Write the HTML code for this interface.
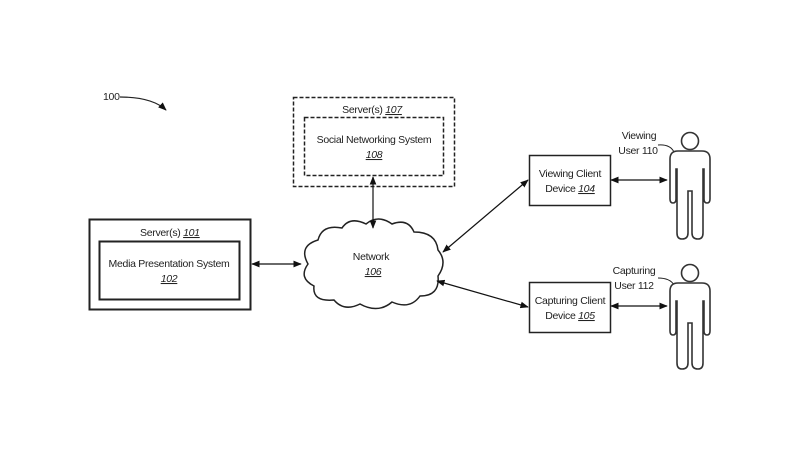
<!DOCTYPE html>
<html><head><style>
html,body{margin:0;padding:0;background:#fff;}
svg{display:block;}
text{font-family:"Liberation Sans",sans-serif;font-size:10.5px;fill:#222;letter-spacing:-0.3px;}
</style></head><body>
<svg width="800" height="470" viewBox="0 0 800 470" xmlns="http://www.w3.org/2000/svg">
<defs>
<marker id="a" viewBox="0 0 10 10" refX="9" refY="5" markerWidth="7" markerHeight="7" orient="auto-start-reverse"><path d="M0,1 L10,5 L0,9 Z" fill="#111"/></marker>
</defs>
<rect width="800" height="470" fill="#fff"/>
<text x="103" y="100">100</text>
<path d="M120,97 Q152,97 166,110" fill="none" stroke="#222" stroke-width="1.2" marker-end="url(#a)"/>
<rect x="89.5" y="219.5" width="161" height="90" fill="none" stroke="#222" stroke-width="2"/>
<text x="140" y="236">Server(s) <tspan text-decoration="underline" font-style="italic">101</tspan></text>
<rect x="99.5" y="241.5" width="140" height="58" fill="none" stroke="#222" stroke-width="2"/>
<text x="169" y="267" text-anchor="middle">Media Presentation System</text>
<text x="169" y="282" text-anchor="middle" font-style="italic" text-decoration="underline">102</text>
<rect x="293.5" y="97.5" width="161" height="89" fill="none" stroke="#222" stroke-width="1.5" stroke-dasharray="4,2"/>
<text x="372" y="113" text-anchor="middle">Server(s) <tspan text-decoration="underline" font-style="italic">107</tspan></text>
<rect x="304.5" y="117.5" width="139" height="58" fill="none" stroke="#222" stroke-width="1.5" stroke-dasharray="4,2"/>
<text x="374" y="143" text-anchor="middle">Social Networking System</text>
<text x="374" y="158" text-anchor="middle" font-style="italic" text-decoration="underline">108</text>
<path d="M318,240 Q322,224 342,228 Q350,216 366,224 Q378,214 392,224 Q408,218 414,232 Q436,232 438,250 Q448,262 438,276 Q440,296 420,296 Q410,310 392,302 Q378,314 360,304 Q344,312 334,300 Q312,302 314,286 Q298,278 308,264 Q298,246 318,240 Z" fill="#fff" stroke="#222" stroke-width="1.5"/>
<text x="371" y="260" text-anchor="middle">Network</text>
<text x="373" y="275" text-anchor="middle" font-style="italic" text-decoration="underline">106</text>
<line x1="252" y1="264" x2="301" y2="264" stroke="#111" stroke-width="1.2" marker-start="url(#a)" marker-end="url(#a)"/>
<line x1="373" y1="177" x2="373" y2="228" stroke="#111" stroke-width="1.2" marker-start="url(#a)" marker-end="url(#a)"/>
<line x1="443" y1="252" x2="528" y2="180" stroke="#111" stroke-width="1.2" marker-start="url(#a)" marker-end="url(#a)"/>
<line x1="437" y1="281" x2="528" y2="307" stroke="#111" stroke-width="1.2" marker-start="url(#a)" marker-end="url(#a)"/>
<line x1="611" y1="180" x2="667" y2="180" stroke="#111" stroke-width="1.2" marker-start="url(#a)" marker-end="url(#a)"/>
<line x1="611" y1="306" x2="667" y2="306" stroke="#111" stroke-width="1.2" marker-start="url(#a)" marker-end="url(#a)"/>
<rect x="529.5" y="155.5" width="81" height="50" fill="#fff" stroke="#222" stroke-width="1.5"/>
<text x="570" y="177" text-anchor="middle">Viewing Client</text>
<text x="570" y="192" text-anchor="middle">Device <tspan font-style="italic" text-decoration="underline">104</tspan></text>
<rect x="529.5" y="282.5" width="81" height="50" fill="#fff" stroke="#222" stroke-width="1.5"/>
<text x="570" y="304" text-anchor="middle">Capturing Client</text>
<text x="570" y="319" text-anchor="middle">Device <tspan font-style="italic" text-decoration="underline">105</tspan></text>
<text x="639" y="139" text-anchor="middle">Viewing</text>
<text x="638" y="154" text-anchor="middle">User 110</text>
<path d="M658,145 Q670,144 674,152" fill="none" stroke="#222" stroke-width="1"/>
<text x="634" y="274" text-anchor="middle">Capturing</text>
<text x="634" y="289" text-anchor="middle">User 112</text>
<path d="M658,278 Q670,278 674,285" fill="none" stroke="#222" stroke-width="1"/>
<g fill="#fff" stroke="#333" stroke-width="1.6">
<circle cx="690" cy="141" r="8.5"/>
<path d="M678,151 L702,151 Q710,151 710,159 L710,199 Q710,203 707,203 Q704,203 704,199 L704,169 L703,169 L703,233 Q703,239 698,239 Q692,239 692,233 L692,191 L688,191 L688,233 Q688,239 682,239 Q677,239 677,233 L677,169 L676,169 L676,199 Q676,203 673,203 Q670,203 670,199 L670,159 Q670,151 678,151 Z"/>
<circle cx="690" cy="273" r="8.5"/>
<path d="M678,283 L702,283 Q710,283 710,291 L710,331 Q710,335 707,335 Q704,335 704,331 L704,301 L703,301 L703,363 Q703,369 698,369 Q692,369 692,363 L692,323 L688,323 L688,363 Q688,369 682,369 Q677,369 677,363 L677,301 L676,301 L676,331 Q676,335 673,335 Q670,335 670,331 L670,291 Q670,283 678,283 Z"/>
</g>
</svg>
</body></html>
